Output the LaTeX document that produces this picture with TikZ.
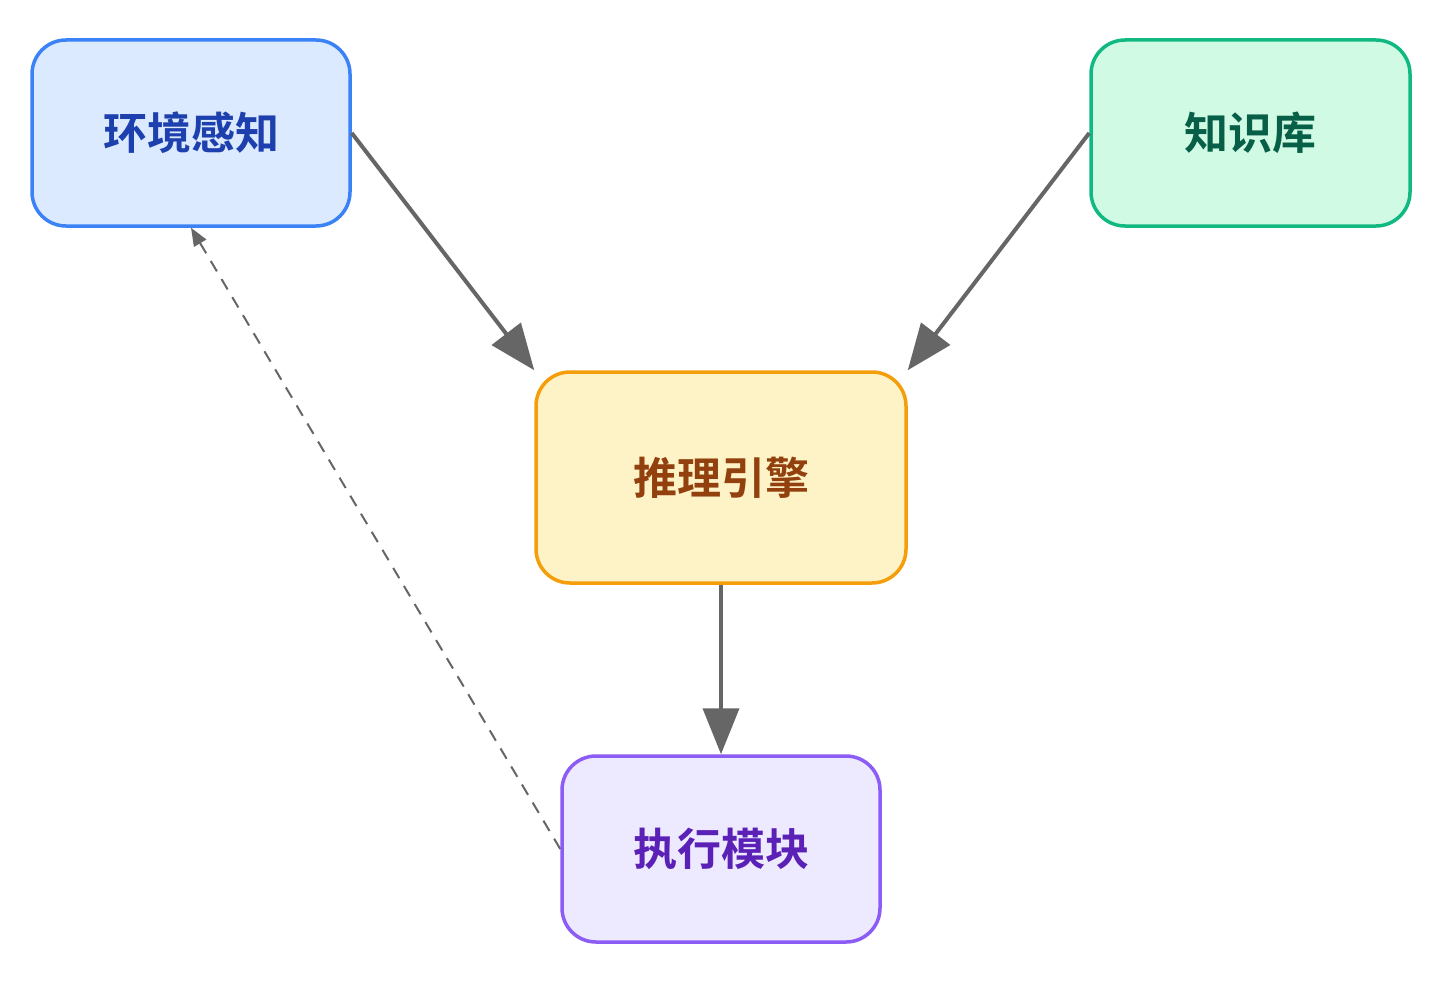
\documentclass[tikz,border=0pt]{standalone}
\usepackage{fontspec}
\newfontfamily\cjk{Noto Sans CJK SC}[BoldFont={* Bold}]
\usetikzlibrary{arrows.meta}
\definecolor{bB}{HTML}{3B82F6}\definecolor{bF}{HTML}{DBEAFE}\definecolor{bT}{HTML}{1E40AF}
\definecolor{gB}{HTML}{10B981}\definecolor{gF}{HTML}{D1FAE5}\definecolor{gT}{HTML}{065F46}
\definecolor{yB}{HTML}{F59E0B}\definecolor{yF}{HTML}{FEF3C7}\definecolor{yT}{HTML}{92400E}
\definecolor{pB}{HTML}{8B5CF6}\definecolor{pF}{HTML}{EDE9FE}\definecolor{pT}{HTML}{5B21B6}
\definecolor{ar}{HTML}{666666}
\begin{document}
\begin{tikzpicture}[x=1pt,y=-1pt,
 box/.style={draw,line width=3.5pt,rounded corners=34pt,inner sep=0pt,font=\cjk\bfseries\fontsize{44}{50}\selectfont},
 arr/.style={draw=ar,line width=4pt,-{Triangle[length=46pt,width=36pt]}},
 dsh/.style={draw=ar,line width=2pt,dash pattern=on 12pt off 9pt,-{Triangle[length=18pt,width=14pt]}}]
\useasboundingbox (0,0) rectangle (1442,982);
\node[box,draw=bB,fill=bF,text=bT,minimum width=318pt,minimum height=186pt] (env) at (191,133) {环境感知};
\node[box,draw=gB,fill=gF,text=gT,minimum width=319pt,minimum height=186pt] (kb) at (1250.5,133) {知识库};
\node[box,draw=yB,fill=yF,text=yT,minimum width=370pt,minimum height=211pt] (inf) at (721,477.5) {推理引擎};
\node[box,draw=pB,fill=pF,text=pT,minimum width=318pt,minimum height=186pt] (exe) at (721,849) {执行模块};
\draw[arr] (env.east) -- (inf.north west);
\draw[arr] (kb.west) -- (inf.north east);
\draw[arr] (inf.south) -- (exe.north);
\draw[dsh] (exe.west) -- (env.south);
\end{tikzpicture}
\end{document}
